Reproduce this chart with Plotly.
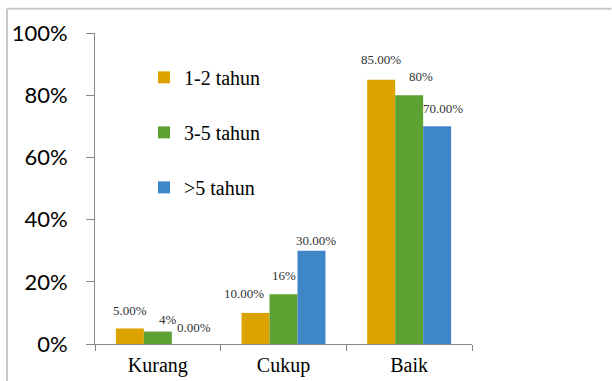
import plotly.graph_objects as go

categories = ["Kurang", "Cukup", "Baik"]
series_names = ["1-2 tahun", "3-5 tahun", ">5 tahun"]
values_12 = [0.05, 0.10, 0.85]
values_35 = [0.04, 0.16, 0.80]
values_5 = [0.00, 0.30, 0.70]
label_formats = [".2%", ".0%", ".2%"]
y_ticks = [0, 0.2, 0.4, 0.6, 0.8, 1.0]

colors = ["#DCA300", "#5EA133", "#3F86C8"]
# pixel offsets of the data labels relative to their bar (style only)
label_shift = [
    [(0, 18), (-12, 19), (0, 20)],
    [(10, 12), (0, 19), (12, 19)],
    [(8, 17), (5, 10), (6, 18)],
]

series = [values_12, values_35, values_5]
xpos = list(range(len(categories)))
bargap = 0.332
bw = (1 - bargap) / 3

SERIF = "Liberation Serif"

fig = go.Figure()
annotations = []
for k, (name, vals) in enumerate(zip(series_names, series)):
    fig.add_trace(go.Bar(
        x=xpos, y=vals, name=name, legendgroup=name,
        marker=dict(color=colors[k], line=dict(width=0)),
    ))
    for i, v in enumerate(vals):
        dx, dy = label_shift[k][i]
        annotations.append(dict(
            x=i + (k - 1) * bw, y=v, xref="x", yref="y",
            text=format(v, label_formats[k]), showarrow=False,
            xanchor="center", yanchor="middle", xshift=dx, yshift=dy,
            font=dict(family=SERIF, size=13, color="#333333"),
        ))

fig.update_layout(
    width=612, height=381,
    margin=dict(l=95, r=140, t=33, b=37, autoexpand=False),
    paper_bgcolor="white", plot_bgcolor="white",
    barmode="group", bargap=bargap, bargroupgap=0,
    annotations=annotations,
    showlegend=True,
    legend=dict(
        x=0.13, y=0.92, xanchor="left", yanchor="top",
        font=dict(family=SERIF, size=20, color="#000000"),
        tracegroupgap=26, bgcolor="rgba(0,0,0,0)",
    ),
    xaxis=dict(
        range=[-0.5, 2.5], tickmode="array", tickvals=xpos, ticktext=categories,
        ticks="", showline=True, linecolor="#868686", linewidth=1,
        showgrid=False, zeroline=False, automargin=False,
        tickfont=dict(family=SERIF, size=20, color="#000000"),
        ticklabelstandoff=3,
        minor=dict(tickmode="array", tickvals=[-0.5, 0.5, 1.5, 2.5],
                   ticks="outside", ticklen=6, tickcolor="#868686", showgrid=False),
        fixedrange=True,
    ),
    yaxis=dict(
        range=[0, 1], tickmode="array", tickvals=y_ticks, tickformat=".0%",
        ticks="outside", ticklen=8, tickcolor="#868686",
        showline=True, linecolor="#868686", linewidth=1,
        showgrid=False, zeroline=False, automargin=False,
        tickfont=dict(family="Lato", size=22, color="#000000"),
        ticklabelstandoff=14,
        fixedrange=True,
    ),
    shapes=[
        dict(type="line", xref="paper", yref="paper",
             x0=-0.2334, x1=1.37, y0=1.078, y1=1.078,
             line=dict(color="#C8C8C8", width=2)),
        dict(type="line", xref="paper", yref="paper",
             x0=-0.2334, x1=-0.2334, y0=1.078, y1=-0.2,
             line=dict(color="#C8C8C8", width=2)),
    ],
)

fig.write_html("out.html", config={"displayModeBar": False})
